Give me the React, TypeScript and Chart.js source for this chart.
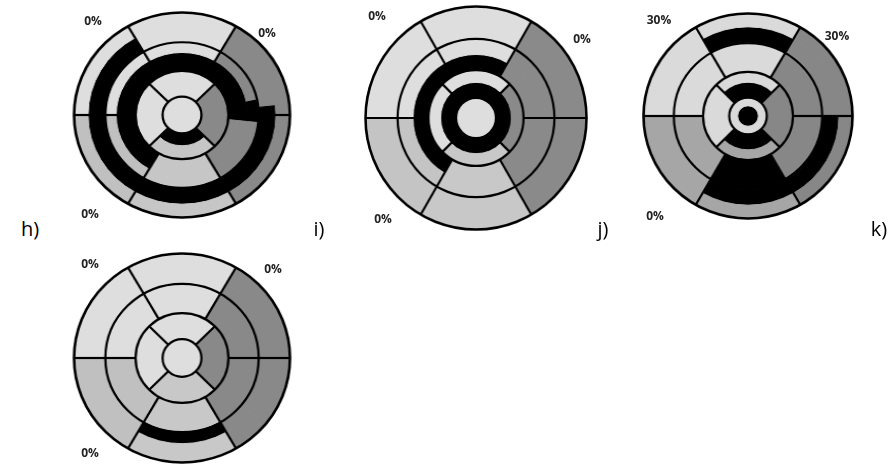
import React, { useEffect, useRef } from "react";
import { Chart, registerables } from "chart.js";
Chart.register(...registerables);

// 17-segment bull's-eye: segment names and start angles (clockwise degrees from 12 o'clock)
const SIX_SEGMENTS = ["Anterior", "Anterolateral", "Inferolateral", "Inferior", "Inferoseptal", "Anteroseptal"];
const SIX_STARTS = [330, 30, 90, 150, 210, 270];
const FOUR_SEGMENTS = ["Anterior", "Lateral", "Inferior", "Septal"];
const FOUR_STARTS = [315, 45, 135, 225];
// ring edges as fraction of the outer radius: basal | mid | apical | apex
const RING_EDGES = [1.0, 0.71, 0.43, 0.18, 0];
const SCAR_COLOR = "#000000";

// panel h
const H_BASAL = ["#dedede", "#898989", "#898989", "#c6c6c6", "#c0c0c0", "#dedede"];
const H_MID = ["#dedede", "#898989", "#898989", "#c6c6c6", "#c0c0c0", "#dedede"];
const H_APICAL = ["#dedede", "#898989", "#c6c6c6", "#dedede"];
const H_APEX = ["#dedede"];
// scar bands: [inner radius, outer radius, from angle, to angle]
const H_SCAR = [
  [0.71, 0.87, 84, 330],
  [0.43, 0.61, 210, 96],
  [0.61, 0.71, 78, 96],
  [0.18, 0.3, 135, 225],
];
const H_PCT = ["0%", "0%", "0%"];

// panel j
const J_BASAL = ["#dedede", "#8a8a8a", "#8a8a8a", "#c8c8c8", "#c4c4c4", "#dedede"];
const J_MID = ["#dedede", "#8a8a8a", "#8a8a8a", "#c8c8c8", "#c4c4c4", "#dedede"];
const J_APICAL = ["#dedede", "#8a8a8a", "#c8c8c8", "#dedede"];
const J_APEX = ["#dedede"];
const J_SCAR = [
  [0.43, 0.57, 210, 30],
  [0.18, 0.32, 0, 360],
];
const J_PCT = ["0%", "0%", "0%"];

// panel k
const K_BASAL = ["#dadada", "#878787", "#878787", "#a6a6a6", "#a6a6a6", "#dadada"];
const K_MID = ["#dadada", "#878787", "#878787", "#a6a6a6", "#a6a6a6", "#dadada"];
const K_APICAL = ["#dadada", "#878787", "#a6a6a6", "#dadada"];
const K_APEX = ["#dadada"];
const K_SCAR = [
  [0.72, 0.87, 330, 30],
  [0.71, 0.87, 90, 210],
  [0.43, 0.71, 150, 210],
  [0.18, 0.33, 315, 45],
  [0.18, 0.33, 135, 225],
  [0, 0.1, 0, 360],
];
const K_PCT = ["30%", "30%", "0%"];

// bottom panel
const L_BASAL = ["#dedede", "#898989", "#898989", "#c8c8c8", "#c0c0c0", "#dedede"];
const L_MID = ["#dedede", "#898989", "#898989", "#c8c8c8", "#c0c0c0", "#dedede"];
const L_APICAL = ["#dedede", "#898989", "#c8c8c8", "#dedede"];
const L_APEX = ["#dedede"];
const L_SCAR = [[0.71, 0.82, 150, 210]];
const L_PCT = ["0%", "0%", "0%"];

const PANEL_LETTERS = ["h)", "i)", "j)", "k)"];

type Scar = number[];

function inArc(m: number, from: number, to: number) {
  return from <= to ? m >= from && m <= to : m >= from || m <= to;
}

function colorAt(m: number, starts: number[], colors: string[]) {
  if (starts.length === 0) return colors[0];
  for (let k = 0; k < starts.length; k++) {
    const s = starts[k];
    const e = starts[(k + 1) % starts.length];
    if (inArc(m, s, e)) return colors[k];
  }
  return colors[0];
}

function buildLayers(basal: string[], mid: string[], apical: string[], apex: string[], scar: Scar[]) {
  const rset = new Set<number>(RING_EDGES);
  scar.forEach((s) => {
    rset.add(s[0]);
    rset.add(s[1]);
  });
  const rs = [...rset].sort((a, b) => b - a);
  const datasets: any[] = [];
  const ringOf: number[] = [];
  for (let i = 0; i < rs.length - 1; i++) {
    const a = rs[i];
    const b = rs[i + 1];
    const rm = (a + b) / 2;
    const ring = rm > RING_EDGES[1] ? 0 : rm > RING_EDGES[2] ? 1 : rm > RING_EDGES[3] ? 2 : 3;
    const starts = ring < 2 ? SIX_STARTS : ring === 2 ? FOUR_STARTS : [];
    const names = ring < 2 ? SIX_SEGMENTS : ring === 2 ? FOUR_SEGMENTS : ["Apex"];
    const colors = [basal, mid, apical, apex][ring];
    const active = scar.filter((s) => s[0] < rm && rm < s[1]);
    const cset = new Set<number>([0, 360, ...starts]);
    active.forEach((s) => {
      cset.add(s[2]);
      cset.add(s[3]);
    });
    const cs = [...cset].sort((x, y) => x - y);
    const data: number[] = [];
    const bg: string[] = [];
    const labels: string[] = [];
    for (let j = 0; j < cs.length - 1; j++) {
      const s = cs[j];
      const e = cs[j + 1];
      if (e - s <= 0) continue;
      const m = (s + e) / 2;
      const black = active.some((sc) => inArc(m, sc[2], sc[3]));
      data.push(e - s);
      bg.push(black ? SCAR_COLOR : colorAt(m, starts, colors));
      labels.push(starts.length ? names[Math.max(0, starts.findIndex((st, k) => inArc(m, st, starts[(k + 1) % starts.length])))] : names[0]);
    }
    datasets.push({
      data,
      backgroundColor: bg,
      borderColor: bg,
      borderWidth: 1,
      weight: a - b,
      segLabels: labels,
    });
    ringOf.push(ring);
  }
  return { datasets, ringOf };
}

function outlinePlugin(ringOf: number[]) {
  return {
    id: "bullseyeOutline",
    afterDatasetsDraw(chart: any) {
      const ctx = chart.ctx;
      const els = ringOf.map((_, i) => chart.getDatasetMeta(i).data[0]);
      if (!els[0]) return;
      const cx = els[0].x;
      const cy = els[0].y;
      ctx.save();
      ctx.strokeStyle = "#000";
      for (let ring = 0; ring < 4; ring++) {
        const idx = ringOf.map((r, i) => (r === ring ? i : -1)).filter((i) => i >= 0);
        const rOut = els[idx[0]].outerRadius;
        const rIn = els[idx[idx.length - 1]].innerRadius;
        ctx.lineWidth = ring === 0 ? 2.6 : 2.2;
        ctx.beginPath();
        ctx.arc(cx, cy, rOut, 0, Math.PI * 2);
        ctx.stroke();
        const starts = ring < 2 ? SIX_STARTS : ring === 2 ? FOUR_STARTS : [];
        ctx.lineWidth = 2.2;
        starts.forEach((a) => {
          const t = ((a - 90) * Math.PI) / 180;
          ctx.beginPath();
          ctx.moveTo(cx + rIn * Math.cos(t), cy + rIn * Math.sin(t));
          ctx.lineTo(cx + rOut * Math.cos(t), cy + rOut * Math.sin(t));
          ctx.stroke();
        });
      }
      ctx.restore();
    },
  };
}

function BullsEye(props: { basal: string[]; mid: string[]; apical: string[]; apex: string[]; scar: Scar[]; cx: number; cy: number; rx: number; ry: number }) {
  const ref = useRef<HTMLCanvasElement | null>(null);
  const pad = 3;
  const size = props.ry * 2 + pad * 2;
  useEffect(() => {
    if (!ref.current) return;
    const { datasets, ringOf } = buildLayers(props.basal, props.mid, props.apical, props.apex, props.scar);
    const chart = new Chart(ref.current, {
      type: "doughnut",
      data: { labels: [], datasets },
      options: {
        animation: false,
        responsive: true,
        maintainAspectRatio: false,
        cutout: 0,
        events: [],
        layout: { padding: pad },
        plugins: { legend: { display: false }, tooltip: { enabled: false } },
      },
      plugins: [outlinePlugin(ringOf)],
    } as any);
    return () => chart.destroy();
  }, []);
  return (
    <div
      style={{
        position: "absolute",
        left: props.cx - size / 2,
        top: props.cy - size / 2,
        width: size,
        height: size,
        transform: `scale(${props.rx / props.ry}, 1)`,
        transformOrigin: "50% 50%",
      }}
    >
      <canvas ref={ref} />
    </div>
  );
}

const pctStyle: React.CSSProperties = {
  position: "absolute",
  transform: "translate(-50%, -50%)",
  fontFamily: "'Open Sans', sans-serif",
  fontWeight: 700,
  fontSize: 12,
  color: "#222",
  whiteSpace: "nowrap",
};
const letterStyle: React.CSSProperties = {
  position: "absolute",
  transform: "translate(-50%, -50%)",
  fontFamily: "'Open Sans', sans-serif",
  fontSize: 20,
  color: "#000",
};

export default function App() {
  const pct = (text: string, x: number, y: number, k: string) => (
    <div key={k} style={{ ...pctStyle, left: x, top: y }}>
      {text}
    </div>
  );
  return (
    <div style={{ position: "fixed", left: 0, top: 0, width: 895, height: 464, background: "#fff", overflow: "hidden" }}>
      <BullsEye basal={H_BASAL} mid={H_MID} apical={H_APICAL} apex={H_APEX} scar={H_SCAR} cx={181.5} cy={115} rx={108.5} ry={103} />
      <BullsEye basal={J_BASAL} mid={J_MID} apical={J_APICAL} apex={J_APEX} scar={J_SCAR} cx={476} cy={117.5} rx={111} ry={112} />
      <BullsEye basal={K_BASAL} mid={K_MID} apical={K_APICAL} apex={K_APEX} scar={K_SCAR} cx={748} cy={115.5} rx={105} ry={103} />
      <BullsEye basal={L_BASAL} mid={L_MID} apical={L_APICAL} apex={L_APEX} scar={L_SCAR} cx={181.5} cy={358} rx={108.5} ry={105} />
      {pct(H_PCT[0], 93, 20, "h0")}
      {pct(H_PCT[1], 267, 32, "h1")}
      {pct(H_PCT[2], 90, 213, "h2")}
      {pct(J_PCT[0], 377, 15, "j0")}
      {pct(J_PCT[1], 582, 38, "j1")}
      {pct(J_PCT[2], 383, 218, "j2")}
      {pct(K_PCT[0], 659, 19, "k0")}
      {pct(K_PCT[1], 837, 35, "k1")}
      {pct(K_PCT[2], 655, 215, "k2")}
      {pct(L_PCT[0], 90, 263, "l0")}
      {pct(L_PCT[1], 273, 268, "l1")}
      {pct(L_PCT[2], 90, 452, "l2")}
      <div style={{ ...letterStyle, left: 30, top: 228 }}>{PANEL_LETTERS[0]}</div>
      <div style={{ ...letterStyle, left: 319, top: 228 }}>{PANEL_LETTERS[1]}</div>
      <div style={{ ...letterStyle, left: 603, top: 228 }}>{PANEL_LETTERS[2]}</div>
      <div style={{ ...letterStyle, left: 879, top: 228 }}>{PANEL_LETTERS[3]}</div>
    </div>
  );
}
